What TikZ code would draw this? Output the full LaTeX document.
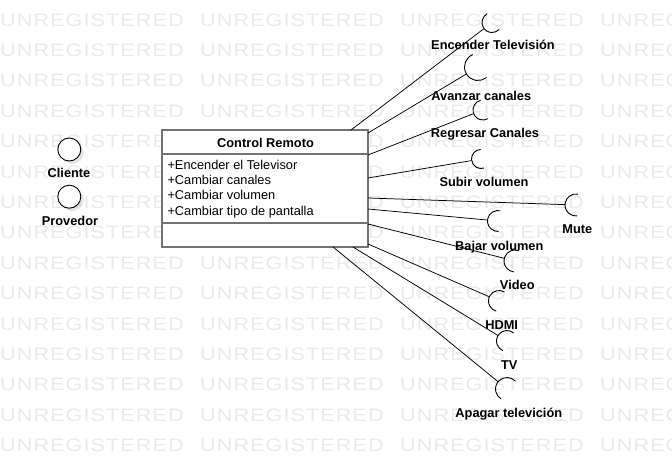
\documentclass[tikz,border=0pt]{standalone}
\usepackage{fontspec}
\setmainfont{Liberation Sans}
\usetikzlibrary{calc}
\definecolor{wmgray}{RGB}{234,234,234}
\definecolor{boxgray}{RGB}{115,115,115}
\definecolor{shadowgray}{RGB}{200,200,200}
\newcommand\wmword{U\kern0.9pt N\kern0.9pt R\kern0.9pt E\kern0.9pt G\kern0.9pt I\kern0.9pt S\kern0.9pt T\kern0.9pt E\kern0.9pt R\kern0.9pt E\kern0.9pt D}
\tikzset{
  lbl/.style={font=\fontsize{12.8}{15}\selectfont\bfseries, anchor=base, inner sep=0pt},
  attr/.style={font=\fontsize{12.8}{15}\selectfont, anchor=base west, inner sep=0pt},
  wm/.style={font=\fontsize{18}{20}\selectfont, text=wmgray, anchor=base west, inner sep=0pt, xscale=1.2},
  link/.style={draw=black, line width=0.75pt},
  sock/.style={draw=black, line width=0.9pt},
  actor/.style={circle, draw=black, fill=white, line width=0.9pt, minimum size=23pt, inner sep=0pt, outer sep=0pt},
  actorshadow/.style={circle, fill=shadowgray, opacity=0.45, minimum size=23pt, inner sep=0pt, outer sep=0pt},
  classbox/.style={draw=boxgray, fill=white, line width=1.6pt, inner sep=0pt, outer sep=0pt},
}
\newcommand\socketlink[3]{% socket centre, start point, radius
  \draw[link] (#2) -- ($(#1)!#3pt!(#2)$);
  \draw[sock] let \p1=($(#2)-(#1)$), \n1={atan2(\y1,\x1)} in
    ($(#1)+(\n1-98:#3)$) arc[start angle=\n1-98, end angle=\n1+98, radius=#3];
}
\begin{document}
\begin{tikzpicture}[x=1pt,y=1pt]
% background and watermark
\fill[white] (0,0) rectangle (672,466);
\begin{scope}
\clip (0,0) rectangle (672,466);
\foreach \r in {0,...,14}{
  \foreach \c in {0,1,2,3}{
    \node[wm] (wm-\r-\c) at ({200*\c},{439.95-30.4*\r}) {\wmword};
  }
}
\end{scope}

% class box
\node[classbox, minimum width=206pt, minimum height=117pt, anchor=south west] (ctrl) at (162,219) {};
\draw[boxgray, line width=1.6pt] (162,312) -- (368,312);
\draw[boxgray, line width=1.6pt] (162,243) -- (368,243);
\node[lbl] (title) at (265.5,318.7) {Control Remoto};
\node[attr] (a1) at (167.3,296.4) {+Encender el Televisor};
\node[attr] (a2) at (167.3,281.2) {+Cambiar canales};
\node[attr] (a3) at (167.3,266.0) {+Cambiar volumen};
\node[attr] (a4) at (167.3,250.8) {+Cambiar tipo de pantalla};

% actors
\node[actorshadow] (clienteshadow) at (72.3,313.5) {};
\node[actor] (cliente) at (69.3,316.5) {};
\node[lbl] (clientelbl) at (69,288.1) {Cliente};
\node[actorshadow] (provedorshadow) at (72.3,266.3) {};
\node[actor] (provedor) at (69.3,269.3) {};
\node[lbl] (provedorlbl) at (70,240.7) {Provedor};

% start points on the box
\coordinate (s1) at (351,336);
\coordinate (s2) at (368,333);
\coordinate (s3) at (368,311);
\coordinate (s4) at (368,288);
\coordinate (s5) at (368,268);
\coordinate (s6) at (368,257);
\coordinate (s7) at (368,242);
\coordinate (s8) at (368,222);
\coordinate (s9) at (353,219);
\coordinate (s10) at (333,219);

% socket centres
\coordinate (enc) at (492,443.5);
\coordinate (ava) at (478,399);
\coordinate (reg) at (483,356);
\coordinate (sub) at (481,307);
\coordinate (mut) at (576,261);
\coordinate (baj) at (498,245);
\coordinate (vid) at (515,205);
\coordinate (hdm) at (499,165);
\coordinate (tvs) at (507,125);
\coordinate (apa) at (507,77);

\socketlink{enc}{s1}{10}
\socketlink{ava}{s2}{13.5}
\socketlink{reg}{s3}{10}
\socketlink{sub}{s4}{9.5}
\socketlink{mut}{s5}{11}
\socketlink{baj}{s6}{10.5}
\socketlink{vid}{s7}{11}
\socketlink{hdm}{s8}{10.5}
\socketlink{tvs}{s9}{10.5}
\socketlink{apa}{s10}{11.5}

% labels
\node[lbl] (encl) at (493,416.4) {Encender Televisión};
\node[lbl] (aval) at (481.3,365.4) {Avanzar canales};
\node[lbl] (regl) at (485,328.1) {Regresar Canales};
\node[lbl] (subl) at (484,279.7) {Subir volumen};
\node[lbl] (mutl) at (577.3,232.1) {Mute};
\node[lbl] (bajl) at (499.3,215.7) {Bajar volumen};
\node[lbl] (vidl) at (517.3,176.4) {Video};
\node[lbl] (hdml) at (501.7,136.4) {HDMI};
\node[lbl] (tvl) at (509.3,96.4) {TV};
\node[lbl] (apal) at (508.8,48.1) {Apagar televición};

\pgfresetboundingbox
\useasboundingbox (0,0) rectangle (672,466);
\end{tikzpicture}
\end{document}
